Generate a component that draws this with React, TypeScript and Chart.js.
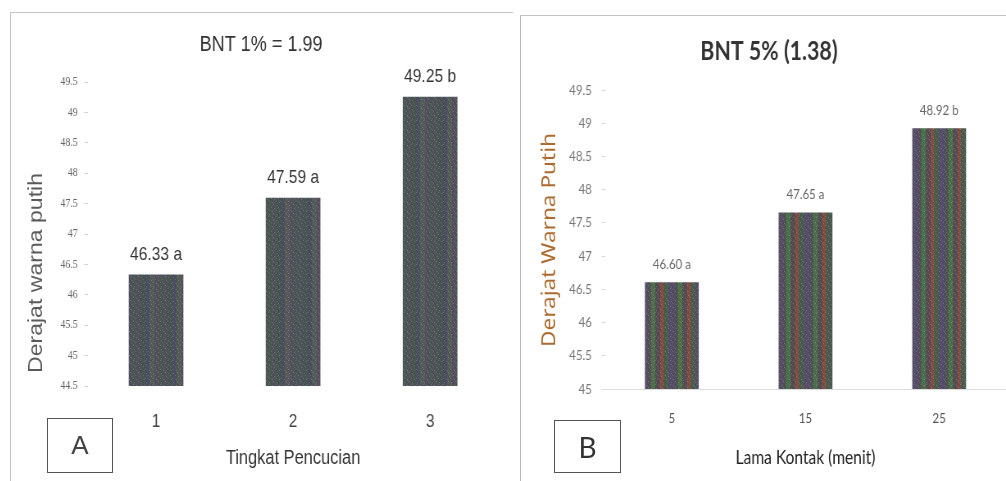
import { useEffect, useRef } from "react";
import { Chart, registerables } from "chart.js";

Chart.register(...registerables);

// ---------- Panel A data ----------
const titleA = "BNT 1% = 1.99";
const washLevels = ["1", "2", "3"];
const whitenessA = [46.33, 47.59, 49.25];
const lettersA = ["a", "a", "b"];
const yTicksA = [44.5, 45, 45.5, 46, 46.5, 47, 47.5, 48, 48.5, 49, 49.5];
const xTitleA = "Tingkat Pencucian";
const yTitleA = "Derajat warna putih";

// ---------- Panel B data ----------
const titleB = "BNT 5% (1.38)";
const contactTimes = ["5", "15", "25"];
const whitenessB = [46.6, 47.65, 48.92];
const lettersB = ["a", "a", "b"];
const yTicksB = [45, 45.5, 46, 46.5, 47, 47.5, 48, 48.5, 49, 49.5];
const xTitleB = "Lama Kontak (menit)";
const yTitleB = "Derajat Warna Putih";

// horizontal squeeze of the scanned figure (canvas drawn wider, shown narrower)
const SQUEEZE = 0.82;
const ARIAL = "'Liberation Sans', Arial, sans-serif";
const CALIBRI = "Lato, 'Liberation Sans', sans-serif";

function makeTexture(ctx: CanvasRenderingContext2D, palette: string[], widths: number[]) {
  const total = widths.reduce((a, b) => a + b, 0);
  const c = document.createElement("canvas");
  c.width = total;
  c.height = 24;
  const g = c.getContext("2d")!;
  let x = 0;
  widths.forEach((w, i) => {
    g.fillStyle = palette[i % palette.length];
    g.fillRect(x, 0, w, 24);
    x += w;
  });
  for (let yy = 0; yy < 24; yy++) {
    for (let xx = 0; xx < total; xx++) {
      const h = (xx * 7 + yy * 13 + xx * yy) % 9;
      if (h === 0) {
        g.fillStyle = "rgba(255,255,255,0.22)";
        g.fillRect(xx, yy, 1, 1);
      } else if (h === 4) {
        g.fillStyle = "rgba(0,0,0,0.16)";
        g.fillRect(xx, yy, 1, 1);
      }
    }
  }
  return ctx.createPattern(c, "repeat");
}

function valueLabelPlugin(letters: string[], font: string, color: string, offset: number) {
  return {
    id: "valueLabels",
    afterDatasetsDraw(chart: any) {
      const ctx = chart.ctx;
      const meta = chart.getDatasetMeta(0);
      const data = chart.data.datasets[0].data as number[];
      ctx.save();
      ctx.font = font;
      ctx.fillStyle = color;
      ctx.textAlign = "center";
      ctx.textBaseline = "middle";
      meta.data.forEach((el: any, i: number) => {
        ctx.fillText(`${data[i].toFixed(2)} ${letters[i]}`, el.x, el.y - offset);
      });
      ctx.restore();
    },
  };
}

function yTitlePlugin(text: string, font: string, color: string, cx: number, cy: number, length: number) {
  return {
    id: "yTitleCustom",
    afterDraw(chart: any) {
      const ctx = chart.ctx;
      ctx.save();
      ctx.font = font;
      ctx.fillStyle = color;
      ctx.textAlign = "center";
      ctx.textBaseline = "middle";
      const w = ctx.measureText(text).width;
      ctx.translate(cx, cy);
      ctx.rotate(-Math.PI / 2);
      ctx.scale(length / w, 1);
      ctx.fillText(text, 0, 0);
      ctx.restore();
    },
  };
}

const fmt = (v: any) => `${Number(v)}`;

export default function App() {
  const refA = useRef<HTMLCanvasElement>(null);
  const refB = useRef<HTMLCanvasElement>(null);

  useEffect(() => {
    const ctxA = refA.current!.getContext("2d")!;
    const ctxB = refB.current!.getContext("2d")!;
    const patA = makeTexture(
      ctxA,
      ["#4b4d60", "#525d56", "#594d63", "#4b5754", "#52525c", "#475550"],
      [5, 6, 4, 7, 5, 6]
    );
    const patB = makeTexture(
      ctxB,
      ["#554d55", "#874c40", "#4a5c4e", "#584c6c", "#515156", "#4a7249"],
      [6, 4, 7, 6, 5, 5]
    );

    const chartA = new Chart(ctxA, {
      type: "bar",
      data: {
        labels: washLevels,
        datasets: [{ data: whitenessA, backgroundColor: patA as any, borderWidth: 0, barThickness: 66 }],
      },
      options: {
        responsive: false,
        animation: false,
        devicePixelRatio: 1,
        layout: { padding: { left: 16.5, right: 16.3, top: 0, bottom: 0 } },
        plugins: {
          legend: { display: false },
          tooltip: { enabled: false },
          title: {
            display: true,
            text: titleA,
            color: "#333",
            font: { family: ARIAL, size: 22, weight: "normal" },
            padding: { top: 31.8, bottom: 23.8 },
          },
        },
        scales: {
          x: {
            grid: { display: false, drawTicks: false },
            border: { display: false },
            ticks: { color: "#444", font: { family: ARIAL, size: 19 }, padding: 24 },
            title: {
              display: true,
              text: xTitleA,
              color: "#333",
              font: { family: ARIAL, size: 20 },
              padding: { top: 0, bottom: 11 },
            },
            afterFit: (s: any) => {
              s.height = 95;
            },
          },
          y: {
            min: yTicksA[0],
            max: yTicksA[yTicksA.length - 1],
            ticks: {
              stepSize: yTicksA[1] - yTicksA[0],
              callback: fmt,
              color: "#666",
              font: { family: "'Liberation Serif', serif", size: 12 },
              padding: 8,
            },
            grid: { drawOnChartArea: false, drawTicks: true, tickLength: 4, color: "#d0d0d0" },
            border: { display: false },
            afterFit: (s: any) => {
              s.width = 78;
            },
          },
        },
      },
      plugins: [
        valueLabelPlugin(lettersA, `19px ${ARIAL}`, "#333", 20),
        yTitlePlugin(yTitleA, `23px ${ARIAL}`, "#5a5a5a", 33, 273, 200),
      ],
    } as any);

    const chartB = new Chart(ctxB, {
      type: "bar",
      data: {
        labels: contactTimes,
        datasets: [{ data: whitenessB, backgroundColor: patB as any, borderWidth: 0, barThickness: 65 }],
      },
      options: {
        responsive: false,
        animation: false,
        devicePixelRatio: 1,
        layout: { padding: { left: 14.7, right: 0, top: 0, bottom: 0 } },
        plugins: {
          legend: { display: false },
          tooltip: { enabled: false },
          title: {
            display: true,
            text: titleB,
            color: "#333",
            font: { family: CALIBRI, size: 26, weight: "bold" },
            padding: { top: 36.4, bottom: 22.4 },
          },
        },
        scales: {
          x: {
            grid: { display: false, drawTicks: false },
            border: { display: true, color: "#dcdcdc", width: 1 },
            ticks: { color: "#555", font: { family: CALIBRI, size: 14 }, padding: 20.6 },
            title: {
              display: true,
              text: xTitleB,
              color: "#222",
              font: { family: CALIBRI, size: 19 },
              padding: { top: 0, bottom: 11.6 },
            },
            afterFit: (s: any) => {
              s.height = 92;
            },
          },
          y: {
            min: yTicksB[0],
            max: yTicksB[yTicksB.length - 1],
            ticks: {
              stepSize: yTicksB[1] - yTicksB[0],
              callback: fmt,
              color: "#777",
              font: { family: CALIBRI, size: 14 },
              padding: 12,
            },
            grid: { drawOnChartArea: false, drawTicks: true, tickLength: 4, color: "#d8d8d8" },
            border: { display: false },
            afterFit: (s: any) => {
              s.width = 89;
            },
          },
        },
      },
      plugins: [
        valueLabelPlugin(lettersB, `14px ${CALIBRI}`, "#666", 18),
        yTitlePlugin(yTitleB, `24px 'Noto Sans', 'DejaVu Sans', sans-serif`, "#ad6a2e", 36.6, 240, 214),
      ],
    } as any);

    return () => {
      chartA.destroy();
      chartB.destroy();
    };
  }, []);

  const abs = (l: number, t: number, w: number, h: number): any => ({
    position: "absolute",
    left: l,
    top: t,
    width: w,
    height: h,
  });

  const WA = 612;
  const WB = 593;

  return (
    <div
      style={{
        position: "fixed",
        left: 0,
        top: 0,
        width: 1006,
        height: 481,
        overflow: "hidden",
        background: "#fff",
      }}
    >
      <canvas
        ref={refA}
        width={WA}
        height={481}
        style={{ ...abs(10, 0, WA * SQUEEZE, 481), display: "block" }}
      />
      <canvas
        ref={refB}
        width={WB}
        height={481}
        style={{ ...abs(520, 0, WB * SQUEEZE, 481), display: "block" }}
      />
      <div style={{ ...abs(10, 12, 502, 470), borderLeft: "1px solid #c4c4c4", borderTop: "1px solid #c4c4c4" }} />
      <div style={{ ...abs(520, 15, 490, 470), borderLeft: "1px solid #b8b8b8", borderTop: "1px solid #c4c4c4" }} />
      <div
        style={{
          ...abs(47, 418, 66, 55),
          boxSizing: "border-box",
          border: "1.5px solid #555",
          display: "flex",
          alignItems: "center",
          justifyContent: "center",
          font: `26px ${ARIAL}`,
          color: "#444",
        }}
      >
        A
      </div>
      <div
        style={{
          ...abs(554, 420, 67, 53),
          boxSizing: "border-box",
          border: "1.5px solid #555",
          display: "flex",
          alignItems: "center",
          justifyContent: "center",
          font: `28px ${CALIBRI}`,
          color: "#333",
        }}
      >
        B
      </div>
    </div>
  );
}
